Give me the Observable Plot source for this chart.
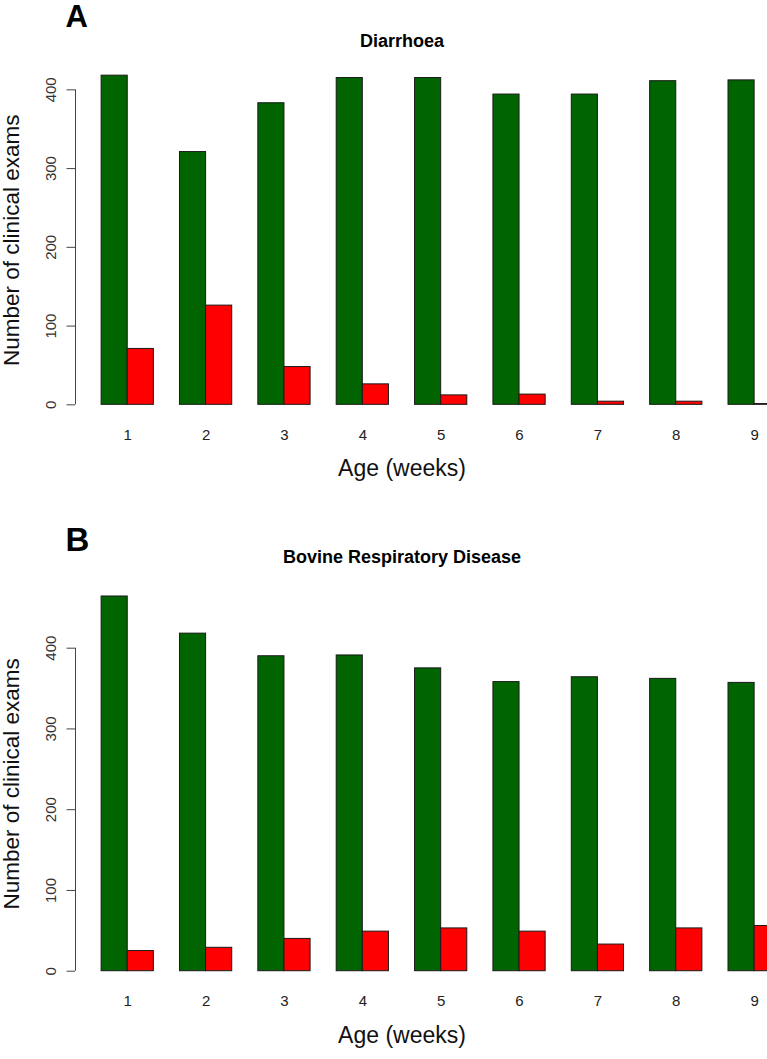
<!DOCTYPE html>
<html><head><meta charset="utf-8">
<script src="https://cdn.jsdelivr.net/npm/d3@7"></script>
<script src="https://cdn.jsdelivr.net/npm/@observablehq/plot@0.6"></script>
<style>
html,body{margin:0;padding:0;background:#fff;overflow:hidden;}
#chart svg{display:block;}
</style></head><body><div id="chart"></div>
<script>
// ---- data ----
const weeks = ["1","2","3","4","5","6","7","8","9"];
const seriesNames = ["Not affected","Affected"];
const diarrhoeaNo  = [418,321,383,415,415,394,394,411,412];
const diarrhoeaYes = [71,126,48,26,12,13,4,4,1];
const brdNo  = [464,418,390,391,375,358,364,362,357];
const brdYes = [25,29,40,49,53,49,33,53,56];
const yTicks = [0,100,200,300,400];
const panelLetters = ["A","B"];
const panelTitles = ["Diarrhoea","Bovine Respiratory Disease"];
const xTitle = "Age (weeks)";
const yTitle = "Number of clinical exams";
const colors = ["#006400","#ff0000"];

// R barplot(beside=TRUE) layout: one unit of space then two unit-wide bars per group
function rows(no, yes) {
  const out = [];
  weeks.forEach((w, i) => {
    out.push({week: w, series: seriesNames[0], value: no[i], pos: i * 3 + 1});
    out.push({week: w, series: seriesNames[1], value: yes[i], pos: i * 3 + 2});
  });
  return out;
}

const font = "'Liberation Sans', Arial, Helvetica, sans-serif";

function panel(letter, title, data, L) {
  const yMax = d3.max(data, d => d.value);
  return Plot.plot({
    width: 767,
    height: L.height,
    marginLeft: 75,
    marginRight: 39,
    marginTop: L.top,
    marginBottom: L.bottom,
    style: {fontFamily: font, background: "#fff"},
    x: {domain: [0, 25], axis: null},
    y: {domain: [-0.04 * yMax, 1.04 * yMax]},
    color: {domain: seriesNames, range: colors},
    marks: [
      Plot.rectY(data, {x1: "pos", x2: d => d.pos + 1, y1: 0, y2: "value", fill: "series", stroke: "#1a1a1a", strokeWidth: 1}),
      Plot.axisY(yTicks, {anchor: "left", label: null, tickSize: 8.5, tickFormat: () => "", stroke: "#444"}),
      Plot.ruleX([0], {x: () => 0, y1: () => yTicks[0], y2: () => yTicks[yTicks.length - 1], stroke: "#444", strokeWidth: 1}),
      Plot.text(yTicks, {y: d => d, frameAnchor: "left", dx: -24, rotate: -90, text: d => String(d), fontSize: 15, fill: "#333", textAnchor: "middle", lineAnchor: "middle"}),
      Plot.text(weeks, {x: (d, i) => i * 3 + 2, frameAnchor: "bottom", dy: L.tickDy, text: d => d, fontSize: 15, fill: "#222", textAnchor: "middle", lineAnchor: "middle"}),
      Plot.text([xTitle], {frameAnchor: "bottom", dy: L.xTitleDy, text: d => d, fontSize: 23, fill: "#111", textAnchor: "middle", lineAnchor: "middle"}),
      Plot.text([yTitle], {frameAnchor: "left", dx: -64, rotate: -90, text: d => d, fontSize: 22.5, fill: "#111", textAnchor: "middle", lineAnchor: "middle"}),
      Plot.text([title], {frameAnchor: "top", dy: L.titleDy, text: d => d, fontSize: 18, fontWeight: "bold", fill: "#000", textAnchor: "middle", lineAnchor: "middle"}),
      Plot.text([letter], {frameAnchor: "top-left", dx: -10, dy: L.letterDy, text: d => d, fontSize: L.letterSize, fontWeight: "bold", fill: "#000", textAnchor: "start", lineAnchor: "middle"})
    ]
  });
}

const chart = document.getElementById("chart");
chart.append(panel(panelLetters[0], panelTitles[0], rows(diarrhoeaNo, diarrhoeaYes),
  {height: 515, top: 62, bottom: 97.5, tickDy: 16.8, xTitleDy: 51, titleDy: -21, letterDy: -45, letterSize: 31}));
chart.append(panel(panelLetters[1], panelTitles[1], rows(brdNo, brdYes),
  {height: 544, top: 66, bottom: 73.3, tickDy: 15, xTitleDy: 49, titleDy: -24.5, letterDy: -41, letterSize: 33}));
</script>
</body></html>
